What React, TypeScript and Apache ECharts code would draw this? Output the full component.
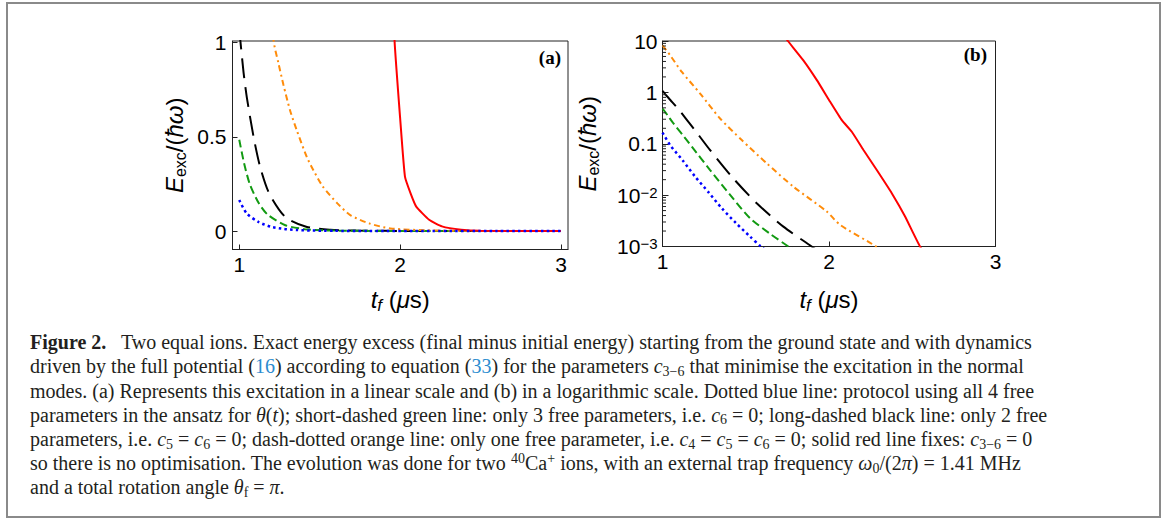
import React, { useEffect, useRef } from "react";
import * as echarts from "echarts";

// ---- Data ----
// dotted blue: all 4 free parameters
const blueX = [1.0, 1.046, 1.12, 1.196, 1.278, 1.356, 1.442, 1.526, 1.586, 1.8, 2.2, 2.6, 3.0];
const blueY = [0.165, 0.094, 0.048, 0.0229, 0.0112, 0.00555, 0.00284, 0.00156, 0.00103, 0.0003, 0.00004, 0.000006, 0.000001];
// short-dashed green: 3 free parameters
const greenX = [1.0, 1.03, 1.066, 1.12, 1.176, 1.286, 1.406, 1.526, 1.646, 1.756, 2.0, 2.5, 3.0];
const greenY = [0.485, 0.36, 0.248, 0.15, 0.0875, 0.0308, 0.0101, 0.00355, 0.00177, 0.001, 0.0003, 0.00003, 0.000004];
// long-dashed black: 2 free parameters
const blackX = [1.0, 1.027, 1.047, 1.089, 1.13, 1.186, 1.286, 1.416, 1.566, 1.726, 1.896, 2.2, 2.6, 3.0];
const blackY = [1.07, 0.84, 0.71, 0.5, 0.34, 0.2, 0.075, 0.0229, 0.00694, 0.00244, 0.001, 0.0002, 0.00003, 0.000005];
// dash-dotted orange: 1 free parameter (log panel b)
const orangeX = [1.0, 1.046, 1.116, 1.226, 1.346, 1.476, 1.626, 1.786, 1.987, 2.067, 2.283, 2.6, 3.0];
const orangeY = [8.2, 5.27, 2.5, 0.95, 0.31, 0.118, 0.0415, 0.0146, 0.00479, 0.00263, 0.001, 0.0002, 0.00003];
// dash-dotted orange as drawn in the linear panel (a)
const orangeLinX = [1.0, 1.1, 1.213, 1.244, 1.275, 1.315, 1.357, 1.419, 1.46, 1.52, 1.61, 1.69, 1.81, 1.94, 2.2, 2.6, 3.0];
const orangeLinY = [8.2, 2.8, 1.016, 0.89, 0.775, 0.643, 0.536, 0.395, 0.324, 0.236, 0.147, 0.085, 0.04, 0.014, 0.003, 0.0003, 0.00003];
// solid red: no optimisation (log panel b)
const redX = [1.7, 1.753, 1.846, 1.927, 2.007, 2.077, 2.137, 2.207, 2.287, 2.377, 2.457, 2.547, 2.7, 3.0];
const redY = [17, 10, 4.2, 1.73, 0.655, 0.288, 0.171, 0.0755, 0.0308, 0.0109, 0.00383, 0.001, 0.0002, 0.00001];
// solid red as drawn in the linear panel (a)
const redLinX = [1.9, 1.965, 2.0, 2.03, 2.065, 2.1, 2.18, 2.26, 2.38, 2.5, 3.0];
const redLinY = [2.5, 1.016, 0.6, 0.289, 0.2, 0.13, 0.06, 0.025, 0.007, 0.001, 0.00001];

// ---- Axis ticks ----
const ticksAX = [1, 2, 3];
const ticksAY = [0, 0.5, 1];
const logMinorTicks = [
  0.002, 0.003, 0.004, 0.005, 0.006, 0.007, 0.008, 0.009,
  0.02, 0.03, 0.04, 0.05, 0.06, 0.07, 0.08, 0.09,
  0.2, 0.3, 0.4, 0.5, 0.6, 0.7, 0.8, 0.9,
  2, 3, 4, 5, 6, 7, 8, 9,
];

const captionLines = [
  "{b|Figure 2.}\u2002 Two equal ions. Exact energy excess (final minus initial energy) starting from the ground state and with dynamics",
  "driven by the full potential ({l|16}) according to equation ({l|33}) for the parameters {m|c}{s|3\u22126} that minimise the excitation in the normal",
  "modes. (a) Represents this excitation in a linear scale and (b) in a logarithmic scale. Dotted blue line: protocol using all 4 free",
  "parameters in the ansatz for {m|\u03b8}({m|t}); short-dashed green line: only 3 free parameters, i.e. {m|c}{s|6} = 0; long-dashed black line: only 2 free",
  "parameters, i.e. {m|c}{s|5} = {m|c}{s|6} = 0; dash-dotted orange line: only one free parameter, i.e. {m|c}{s|4} = {m|c}{s|5} = {m|c}{s|6} = 0; solid red line fixes: {m|c}{s|3\u22126} = 0",
  "so there is no optimisation. The evolution was done for two {sup|40}Ca{sup|+} ions, with an external trap frequency {m|\u03c9}{s|0}/(2{m|\u03c0}) = 1.41 MHz",
  "and a total rotation angle {m|\u03b8}{s|f} = {m|\u03c0}.",
];

const zip = (xs: number[], ys: number[]) => xs.map((x, i) => [x, ys[i]]);

const curves = [
  { name: "black", lin: [blackX, blackY], log: [blackX, blackY], color: "#000000", type: [20, 9] as any, width: 2, smooth: 0.25 },
  { name: "green", lin: [greenX, greenY], log: [greenX, greenY], color: "#129a12", type: [8, 4] as any, width: 2, smooth: 0.25 },
  { name: "orange", lin: [orangeLinX, orangeLinY], log: [orangeX, orangeY], color: "#ff8c0a", type: [6, 3.5, 2, 3.5] as any, width: 2, smooth: 0.25 },
  { name: "red", lin: [redLinX, redLinY], log: [redX, redY], color: "#ff0000", type: "solid" as any, width: 2, smooth: 0.15 },
  { name: "blue", lin: [blueX, blueY], log: [blueX, blueY], color: "#0000ff", type: [2.5, 3.2] as any, width: 2.5, smooth: 0.25 },
];

const SANS = "Liberation Sans";
const SERIF = "Liberation Serif";
const AXIS_COLOR = "#222";

const tickLabelStyle = { fontFamily: SANS, fontSize: 21, color: "#000" };
const nameRich = {
  i: { fontFamily: SANS, fontSize: 24, fontStyle: "italic", color: "#000", lineHeight: 28 },
  s: { fontFamily: SANS, fontSize: 16, color: "#000", verticalAlign: "bottom", lineHeight: 16 },
  si: { fontFamily: SANS, fontSize: 17, fontStyle: "italic", color: "#000", verticalAlign: "bottom", lineHeight: 16 },
};
const nameStyle = { fontFamily: SANS, fontSize: 24, color: "#000", lineHeight: 28, rich: nameRich };

export default function App() {
  const ref = useRef<HTMLDivElement>(null);
  useEffect(() => {
    if (!ref.current) return;
    const chart = echarts.init(ref.current, undefined, { renderer: "svg" });

    const series: any[] = [];
    curves.forEach((c) => {
      [0, 1].forEach((g) => {
        const src = g === 0 ? c.lin : c.log;
        series.push({
          type: "line",
          name: c.name + (g === 0 ? "-lin" : "-log"),
          xAxisIndex: g,
          yAxisIndex: g,
          data: zip(src[0], src[1]),
          showSymbol: false,
          symbol: "none",
          smooth: c.smooth,
          clip: true,
          silent: true,
          lineStyle: { color: c.color, width: c.width, type: c.type, cap: "butt" },
          z: 3,
        });
      });
    });
    series.push({
      type: "custom",
      xAxisIndex: 1,
      yAxisIndex: 1,
      silent: true,
      clip: false,
      data: logMinorTicks.map((v) => [1, v]),
      renderItem: (_p: any, api: any) => {
        const pt = api.coord([api.value(0), api.value(1)]);
        return {
          type: "line",
          shape: { x1: pt[0], y1: pt[1], x2: pt[0] + 3.5, y2: pt[1] },
          style: { stroke: AXIS_COLOR, lineWidth: 1 },
        };
      },
      z: 4,
    });

    const option: any = {
      animation: false,
      backgroundColor: "#fff",
      grid: [
        { left: 232.5, top: 41, width: 335.5, height: 208.5, show: true, borderColor: AXIS_COLOR, borderWidth: 1, containLabel: false },
        { left: 662.5, top: 41, width: 333, height: 205.5, show: true, borderColor: AXIS_COLOR, borderWidth: 1, containLabel: false },
      ],
      xAxis: [
        {
          type: "value",
          gridIndex: 0,
          min: 0.958,
          max: 3.0435,
          axisLine: { show: true, onZero: false, lineStyle: { color: AXIS_COLOR, width: 1 } },
          axisTick: { show: true, inside: true, length: 5, customValues: ticksAX, lineStyle: { color: AXIS_COLOR } },
          axisLabel: { ...tickLabelStyle, margin: 4, customValues: ticksAX },
          splitLine: { show: false },
          name: "{i|t}{si|f} ({i|\u03bc}s)",
          nameLocation: "middle",
          nameGap: 36,
          nameTextStyle: nameStyle,
        },
        {
          type: "value",
          gridIndex: 1,
          min: 1,
          max: 3,
          interval: 1,
          axisLine: { show: true, onZero: false, lineStyle: { color: AXIS_COLOR, width: 1 } },
          axisTick: { show: true, inside: true, length: 5, lineStyle: { color: AXIS_COLOR } },
          axisLabel: { ...tickLabelStyle, margin: 4, showMinLabel: true, showMaxLabel: true },
          splitLine: { show: false },
          name: "{i|t}{si|f} ({i|\u03bc}s)",
          nameLocation: "middle",
          nameGap: 39,
          nameTextStyle: nameStyle,
        },
      ],
      yAxis: [
        {
          type: "value",
          gridIndex: 0,
          min: -0.098,
          max: 1.009,
          axisLine: { show: true, onZero: false, lineStyle: { color: AXIS_COLOR, width: 1 } },
          axisTick: { show: true, inside: true, length: 5, customValues: ticksAY, lineStyle: { color: AXIS_COLOR } },
          axisLabel: { ...tickLabelStyle, margin: 6, customValues: ticksAY },
          splitLine: { show: false },
          name: "{i|E}{s|exc}/({i|\u0127\u03c9})",
          nameLocation: "middle",
          nameRotate: 90,
          nameGap: 44,
          nameTextStyle: nameStyle,
        },
        {
          type: "log",
          logBase: 10,
          gridIndex: 1,
          min: 0.001,
          max: 10,
          axisLine: { show: true, onZero: false, lineStyle: { color: AXIS_COLOR, width: 1 } },
          axisTick: { show: true, inside: true, length: 6, lineStyle: { color: AXIS_COLOR } },
          axisLabel: {
            ...tickLabelStyle,
            margin: 5,
            showMinLabel: true,
            showMaxLabel: true,
            formatter: (v: number) => {
              const e = Math.round(Math.log10(v));
              if (e === 1) return "10";
              if (e === 0) return "1";
              if (e === -1) return "0.1";
              return "10{sup|\u2212" + Math.abs(e) + "}";
            },
            rich: {
              sup: { fontFamily: SANS, fontSize: 15, color: "#000", verticalAlign: "top", lineHeight: 13 },
            },
          },
          splitLine: { show: false },
          name: "{i|E}{s|exc}/({i|\u0127\u03c9})",
          nameLocation: "middle",
          nameRotate: 90,
          nameGap: 61,
          nameTextStyle: nameStyle,
        },
      ],
      graphic: {
        elements: [
          {
            type: "rect",
            shape: { x: 7, y: 3, width: 1153, height: 514 },
            style: { fill: "none", stroke: "#8a8a8a", lineWidth: 2 },
            silent: true,
          },
          {
            type: "text",
            x: 561,
            y: 48,
            style: { text: "(a)", fontFamily: SERIF, fontWeight: "bold", fontSize: 19, fill: "#000", align: "right", verticalAlign: "top" },
            silent: true,
          },
          {
            type: "text",
            x: 987,
            y: 45,
            style: { text: "(b)", fontFamily: SERIF, fontWeight: "bold", fontSize: 19, fill: "#000", align: "right", verticalAlign: "top" },
            silent: true,
          },
          {
            type: "text",
            x: 30,
            y: 330,
            silent: true,
            style: {
              text: captionLines.join("\n"),
              fontFamily: SERIF,
              fontSize: 20,
              lineHeight: 24.2,
              fill: "#231f20",
              align: "left",
              verticalAlign: "top",
              rich: {
                b: { fontFamily: SERIF, fontSize: 20, fontWeight: "bold", lineHeight: 24.2, fill: "#231f20" },
                l: { fontFamily: SERIF, fontSize: 20, lineHeight: 24.2, fill: "#2b8ccf" },
                m: { fontFamily: SERIF, fontSize: 20, fontStyle: "italic", lineHeight: 24.2, fill: "#231f20" },
                s: { fontFamily: SERIF, fontSize: 14, lineHeight: 14, verticalAlign: "bottom", fill: "#231f20" },
                sup: { fontFamily: SERIF, fontSize: 14, lineHeight: 17, verticalAlign: "top", fill: "#231f20" },
              },
            },
          },
        ],
      },
      series,
    };
    chart.setOption(option);
    return () => chart.dispose();
  }, []);
  return (
    <div
      ref={ref}
      style={{ position: "fixed", left: 0, top: 0, width: 1165, height: 519, background: "#fff" }}
    />
  );
}
